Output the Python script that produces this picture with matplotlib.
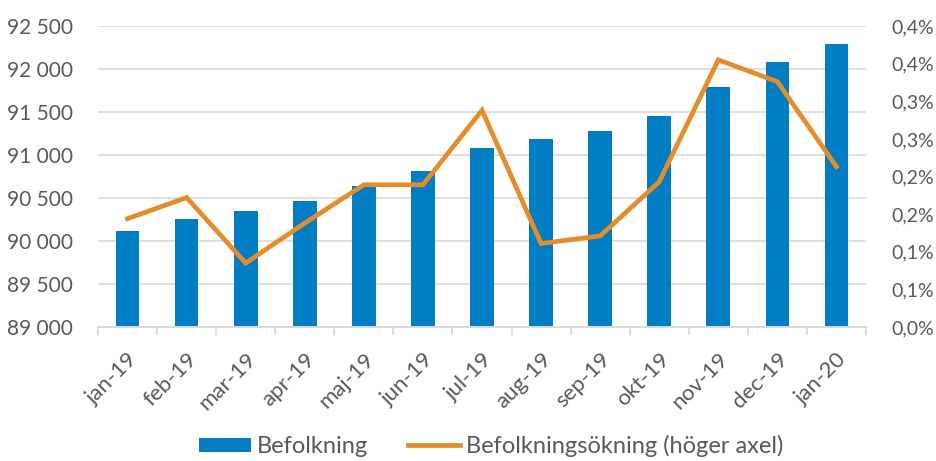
import matplotlib
matplotlib.use("Agg")
import matplotlib.pyplot as plt
from matplotlib.ticker import FuncFormatter, FixedLocator
import numpy as np

# data
months = ["jan-19", "feb-19", "mar-19", "apr-19", "maj-19", "jun-19", "jul-19",
          "aug-19", "sep-19", "okt-19", "nov-19", "dec-19", "jan-20"]
befolkning = [90116, 90259, 90349, 90465, 90640, 90814, 91078,
              91182, 91283, 91457, 91794, 92085, 92291]
okning_pct = [0.144, 0.172, 0.085, 0.138, 0.189, 0.189, 0.288,
              0.111, 0.121, 0.193, 0.355, 0.326, 0.213]

BLUE = "#007DC3"
ORANGE = "#E38D2B"
GREY_TXT = "#595959"
GRID = "#D9D9D9"

plt.rcParams["font.family"] = ["Lato", "DejaVu Sans"]

fig = plt.figure(figsize=(9.36, 4.61), dpi=100)
ax = fig.add_axes([98 / 936, 1 - 327 / 461, 768 / 936, 301 / 461])
ax2 = ax.twinx()

x = np.arange(len(months))
bars = ax.bar(x, befolkning, width=0.4, color=BLUE, label="Befolkning", zorder=2)
line, = ax2.plot(x, okning_pct, color=ORANGE, lw=3.4, solid_joinstyle="miter",
                 label="Befolkningsökning (höger axel)", zorder=3)

ax.set_xlim(-0.5, len(months) - 0.5)
ax.set_ylim(89000, 92500)
ax.set_yticks(np.arange(89000, 92501, 500))
ax.yaxis.set_major_formatter(FuncFormatter(lambda v, p: f"{int(v):,}".replace(",", " ")))
ax.grid(axis="y", color=GRID, lw=1.2, zorder=0)
ax.set_axisbelow(True)

ax2.set_ylim(0, 0.4)
ax2.set_yticks(np.arange(0, 0.401, 0.05))
ax2.yaxis.set_major_formatter(
    FuncFormatter(lambda v, p: f"{np.floor(v * 10 + 0.5) / 10:.1f}%".replace(".", ",")))

for a in (ax, ax2):
    for s in ("top", "left", "right"):
        a.spines[s].set_visible(False)
    a.spines["bottom"].set_color(GRID)
    a.spines["bottom"].set_linewidth(1.2)
    a.tick_params(axis="y", length=0, labelcolor=GREY_TXT)

ax.tick_params(axis="y", pad=18, labelsize=15)
ax2.tick_params(axis="y", pad=18, labelsize=14)

ax.set_xticks(x)
ax.set_xticklabels(months, rotation=45, ha="right", rotation_mode="anchor")
ax.tick_params(axis="x", length=0, labelsize=16, labelcolor=GREY_TXT, pad=16)
ax.xaxis.set_minor_locator(FixedLocator(np.arange(-0.5, len(months), 1.0)))
ax.tick_params(axis="x", which="minor", length=6, color=GRID, width=1.2)

fig.legend(handles=[bars, line], loc="center", bbox_to_anchor=(491 / 936, 1 - 446 / 461),
           ncol=2, frameon=False, fontsize=17, labelcolor=GREY_TXT,
           handlelength=2.2, handleheight=0.55, columnspacing=1.7, handletextpad=0.25)

fig.savefig("out.png", dpi=100)
